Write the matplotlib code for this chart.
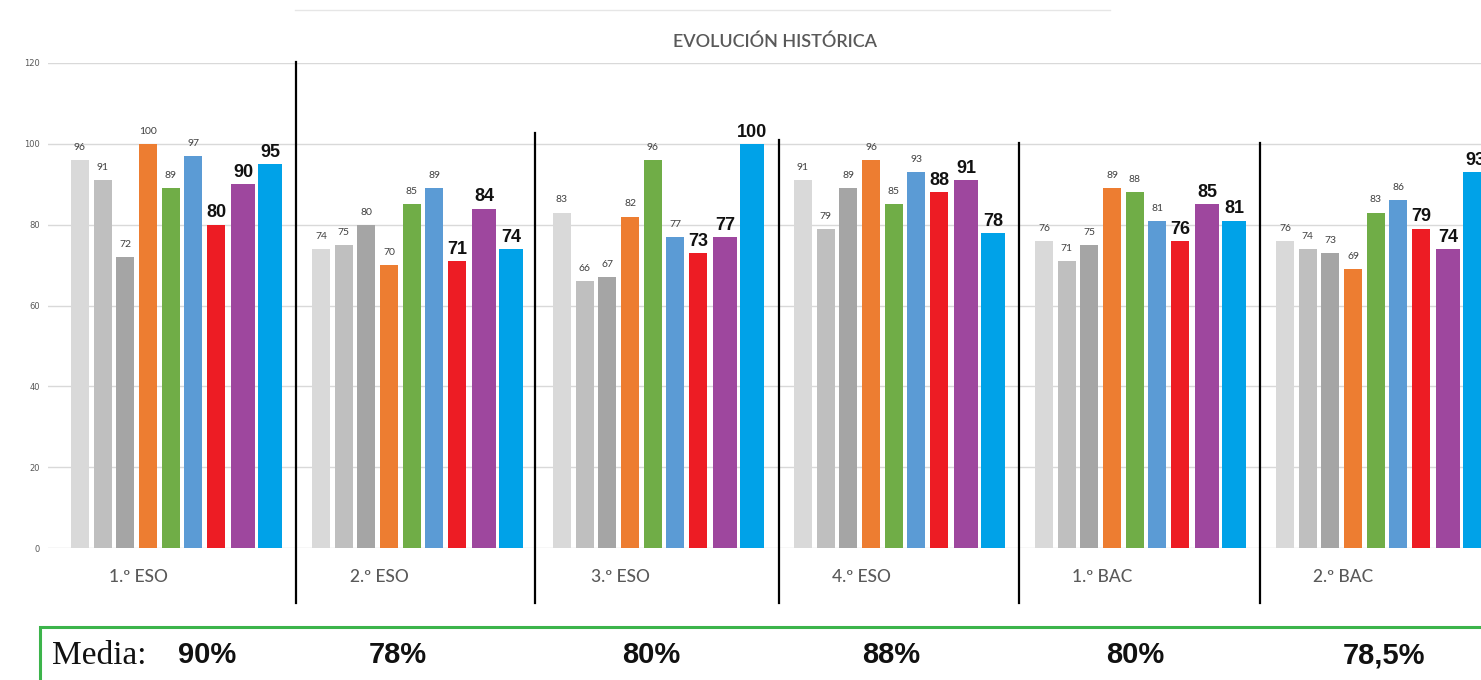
import matplotlib
matplotlib.use('Agg')
import matplotlib.pyplot as plt
import matplotlib.patches as patches
import numpy as np

# data
cursos = ["1.º ESO", "2.º ESO", "3.º ESO", "4.º ESO", "1.º BAC", "2.º BAC"]
eso1 = [96, 91, 72, 100, 89, 97, 80, 90, 95]
eso2 = [74, 75, 80, 70, 85, 89, 71, 84, 74]
eso3 = [83, 66, 67, 82, 96, 77, 73, 77, 100]
eso4 = [91, 79, 89, 96, 85, 93, 88, 91, 78]
bac1 = [76, 71, 75, 89, 88, 81, 76, 85, 81]
bac2 = [76, 74, 73, 69, 83, 86, 79, 74, 93]
grupos = [eso1, eso2, eso3, eso4, bac1, bac2]
medias = ["90%", "78%", "80%", "88%", "80%", "78,5%"]
yticks = [0, 20, 40, 60, 80, 100, 120]

colors = ["#d9d9d9", "#bfbfbf", "#a5a5a5", "#ed7d31", "#70ad47",
          "#5b9bd5", "#ed1c24", "#9e479e", "#00a2e8"]

# layout (x in pixel-like units)
W, H = 1481, 680
group_start = 80
group_step = 241
offsets = [0, 22.7, 45.4, 68.1, 90.8, 113.5, 136.2, 163, 190.5]
widths = [18] * 7 + [24, 24]

fig = plt.figure(figsize=(W / 100, H / 100), dpi=100)
fig.patch.set_facecolor('white')
ax = fig.add_axes([48 / W, (H - 548) / H, 1 - 48 / W, (548 - 63) / H])
ax.set_xlim(48, W)
ax.set_ylim(0, 120)

for y in yticks:
    ax.axhline(y, color="#d9d9d9", lw=1, zorder=0)

for g, vals in enumerate(grupos):
    base = group_start + g * group_step
    for i, v in enumerate(vals):
        x = base + offsets[i]
        ax.bar(x, v, width=widths[i], color=colors[i], zorder=2)
        if i < 6:
            ax.text(x, v + 2.0, str(v), ha='center', va='bottom',
                    fontsize=7.5, color="#404040", family='Lato')
        else:
            ax.text(x, v + 0.8, str(v), ha='center', va='bottom',
                    fontsize=13, fontweight='bold', color="#111111",
                    family='Liberation Sans')
    ax.text(base + 58, -7.2, cursos[g], ha='center', va='center',
            fontsize=12.5, color="#595959", family='Lato', fontweight='medium')

# separators between panels
sep_x = [296, 535, 779, 1019, 1260]
sep_top = [120.2, 102.7, 101, 100.2, 100.2]
for x, t in zip(sep_x, sep_top):
    ax.plot([x, x], [-13.6, t], color='black', lw=1.6, clip_on=False, zorder=3)

ax.set_yticks(yticks)
ax.set_xticks([])
ax.tick_params(axis='y', length=0, labelsize=6, labelcolor="#595959", pad=6)
for s in ax.spines.values():
    s.set_visible(False)

fig.text(775 / W, 1 - 42 / H, "EVOLUCIÓN HISTÓRICA", ha='center', va='center',
         fontsize=13, color="#595959", family='Lato', fontweight='semibold')
fig.add_artist(plt.Line2D([295 / W, 1110 / W], [1 - 10 / H, 1 - 10 / H],
                          color="#e6e6e6", lw=1))

# media box
box = patches.Rectangle((40 / W, -0.05), 1.0, (H - 627) / H + 0.05,
                        transform=fig.transFigure, fill=False,
                        edgecolor="#3cb44b", lw=2.2)
fig.add_artist(box)
fig.text(52 / W, 1 - 656 / H, "Media:", ha='left', va='center',
         fontsize=24, family='Liberation Serif', color='#111111')
media_x = [207, 398, 651, 891, 1135, 1384]
for x, m in zip(media_x, medias):
    fig.text(x / W, 1 - 655 / H, m, ha='center', va='center', fontsize=21,
             fontweight='bold', family='Liberation Sans', color='#111111')

plt.savefig("out.png", dpi=100)
plt.close(fig)
